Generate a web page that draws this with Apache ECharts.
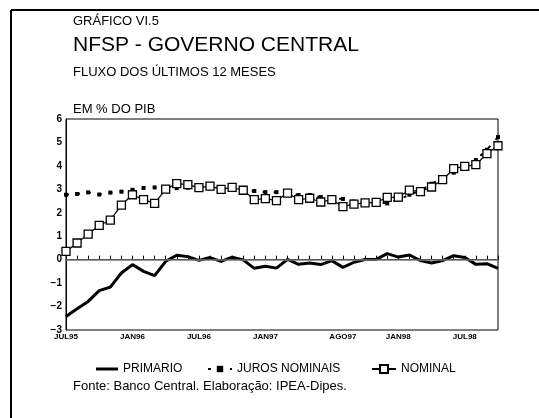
<!DOCTYPE html>
<html><head><meta charset="utf-8">
<script src="https://cdn.jsdelivr.net/npm/echarts@6/dist/echarts.min.js"></script>
<style>html,body{margin:0;padding:0;background:#fff}#c{width:539px;height:418px}</style>
</head><body><div id="c"></div>
<script>
var months = ['JUL95','AGO95','SET95','OUT95','NOV95','DEZ95','JAN96','FEV96','MAR96','ABR96','MAI96','JUN96','JUL96','AGO96','SET96','OUT96','NOV96','DEZ96','JAN97','FEV97','MAR97','ABR97','MAI97','JUN97','JUL97','AGO97','SET97','OUT97','NOV97','DEZ97','JAN98','FEV98','MAR98','ABR98','MAI98','JUN98','JUL98','AGO98','SET98','OUT98'];
var tickLabels = {0:'JUL95',6:'JAN96',12:'JUL96',18:'JAN97',25:'AGO97',30:'JAN98',36:'JUL98'};
var primario = [-2.42,-2.09,-1.78,-1.32,-1.17,-0.57,-0.21,-0.50,-0.68,-0.07,0.19,0.13,-0.03,0.09,-0.07,0.11,-0.01,-0.37,-0.28,-0.36,0.01,-0.20,-0.14,-0.21,-0.04,-0.33,-0.11,0.01,0.01,0.26,0.11,0.20,-0.04,-0.14,-0.04,0.17,0.09,-0.20,-0.17,-0.37];
var juros = [2.77,2.80,2.87,2.78,2.86,2.90,2.98,3.06,3.08,3.08,3.05,3.07,3.10,3.05,3.07,2.97,2.97,2.93,2.88,2.88,2.84,2.76,2.76,2.67,2.60,2.59,2.48,2.41,2.43,2.40,2.56,2.77,2.94,3.24,3.45,3.71,3.89,4.25,4.69,5.23];
var nominal = [0.35,0.71,1.09,1.46,1.69,2.33,2.77,2.56,2.40,3.01,3.24,3.20,3.07,3.14,3.00,3.08,2.96,2.56,2.60,2.52,2.84,2.56,2.62,2.46,2.56,2.26,2.37,2.42,2.44,2.66,2.67,2.97,2.90,3.10,3.41,3.88,3.98,4.05,4.52,4.86];

var chart = echarts.init(document.getElementById('c'));
var F = 'Liberation Sans, Arial, sans-serif';
function ttl(text, top, size) {
  return {text: text, left: 68, top: top, textStyle: {fontSize: size, fontWeight: 'normal', color: '#000', fontFamily: F}};
}
var legText = {fontSize: 12, color: '#000', fontFamily: F};
chart.setOption({
  animation: false,
  backgroundColor: '#fff',
  textStyle: {fontFamily: F},
  title: [
    ttl('GRÁFICO VI.5', 9.5, 13),
    ttl('NFSP - GOVERNO CENTRAL', 30, 21),
    ttl('FLUXO DOS ÚLTIMOS 12 MESES', 61, 13),
    ttl('EM % DO PIB', 97.5, 13),
    ttl('Fonte: Banco Central. Elaboração: IPEA-Dipes.', 375, 13)
  ],
  graphic: [
    {type: 'line', shape: {x1: 11, y1: 10, x2: 539, y2: 10}, style: {stroke: '#000', lineWidth: 2}},
    {type: 'line', shape: {x1: 11, y1: 10, x2: 11, y2: 418}, style: {stroke: '#000', lineWidth: 2}}
  ],
  legend: [
    {left: 91, top: 358, itemWidth: 22, itemHeight: 10, padding: 5, textStyle: legText,
     data: [{name: 'PRIMARIO', icon: 'path://M0,0H22V3H0Z'}]},
    {left: 202, top: 358, itemWidth: 24, itemHeight: 8, padding: 5, textStyle: legText,
     data: ['JUROS NOMINAIS']},
    {left: 366, top: 358, itemWidth: 24, itemHeight: 10, padding: 5, textStyle: legText,
     data: ['NOMINAL']}
  ],
  grid: {left: 66, right: 41, top: 119, bottom: 88, show: true, borderColor: '#000', borderWidth: 1},
  xAxis: {
    type: 'category', data: months, boundaryGap: false,
    axisLine: {lineStyle: {color: '#000', width: 1}},
    axisTick: {show: true, inside: true, length: 4, interval: 0, lineStyle: {color: '#000'}},
    axisLabel: {interval: 0, fontSize: 8, fontWeight: 'bold', color: '#000', margin: 3,
      formatter: function (v, i) { return tickLabels[i] || ''; }},
    splitLine: {show: false}
  },
  yAxis: {
    type: 'value', min: -3, max: 6, interval: 1,
    axisLine: {show: true, lineStyle: {color: '#000'}},
    axisTick: {show: false},
    axisLabel: {fontSize: 10, fontWeight: 'bold', color: '#000', margin: 4,
      formatter: function (v) { return v < 0 ? '\u2212' + Math.abs(v) : String(v); }},
    splitLine: {show: false}
  },
  series: [
    {name: 'PRIMARIO', type: 'line', data: primario, symbol: 'none',
     lineStyle: {color: '#000', width: 3}, itemStyle: {color: '#000'}, z: 3,
     markLine: {silent: true, symbol: 'none', label: {show: false},
       lineStyle: {color: '#777', width: 1.5, type: 'solid'}, data: [{yAxis: 0}]}},
    {name: 'JUROS NOMINAIS', type: 'line', data: juros, symbol: 'rect', symbolSize: 4,
     lineStyle: {color: '#000', width: 2, type: [3, 8]}, itemStyle: {color: '#000'}, z: 2},
    {name: 'NOMINAL', type: 'line', data: nominal, symbol: 'rect', symbolSize: 8,
     lineStyle: {color: '#000', width: 1.2}, itemStyle: {color: '#fff', borderColor: '#000', borderWidth: 1.3}, z: 4}
  ]
});
</script></body></html>
